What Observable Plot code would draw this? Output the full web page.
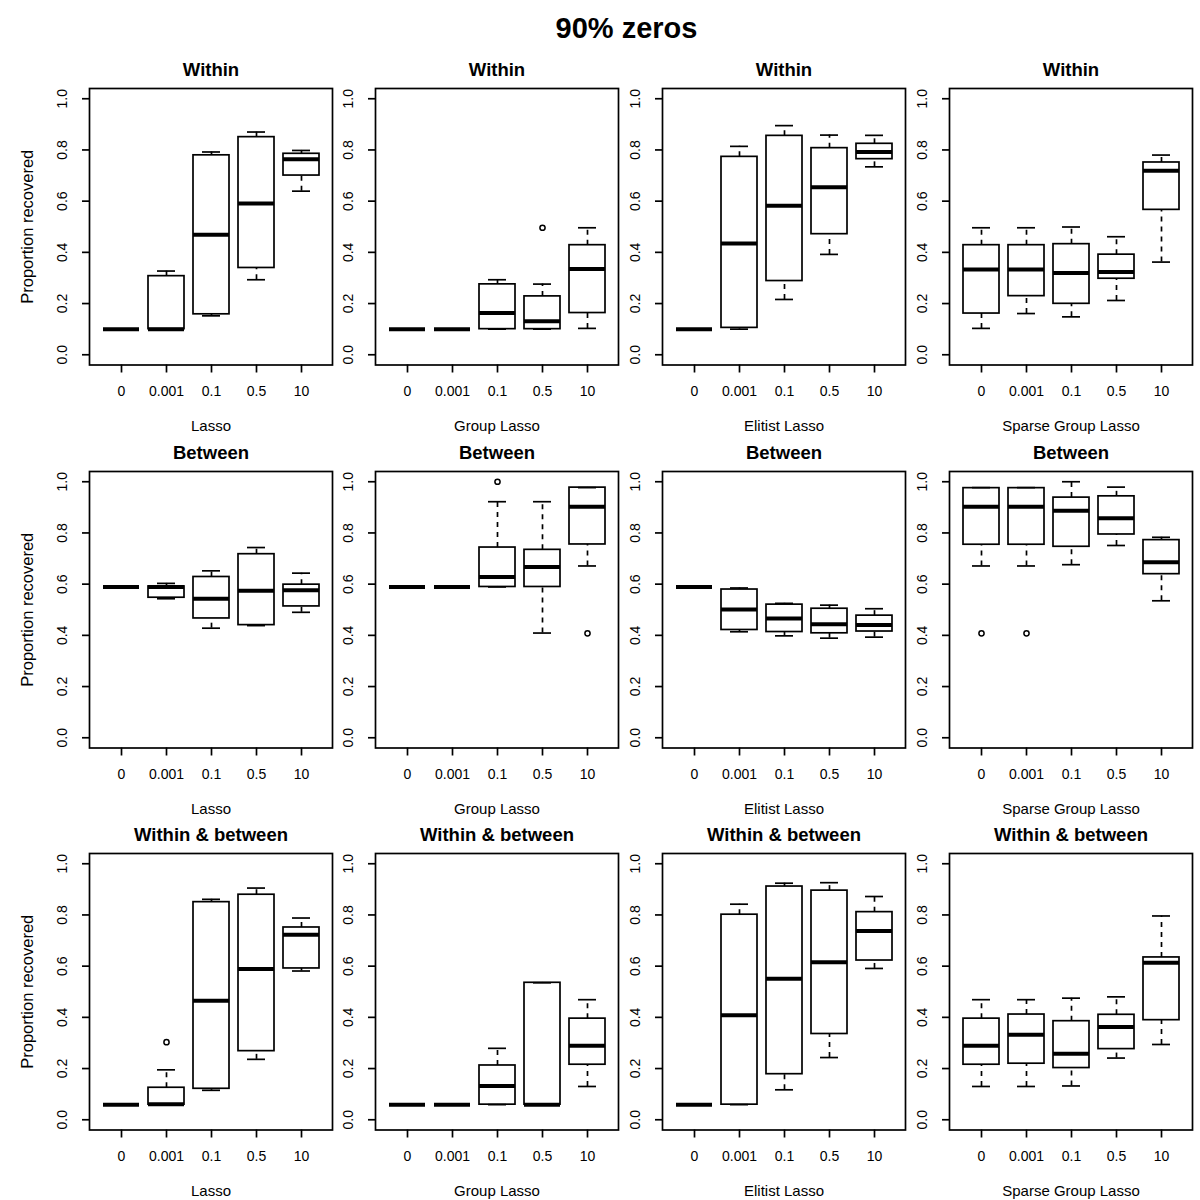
<!DOCTYPE html>
<html>
<head>
<meta charset="utf-8">
<script src="https://cdn.jsdelivr.net/npm/d3@7"></script>
<script src="https://cdn.jsdelivr.net/npm/@observablehq/plot@0.6"></script>
<style>
  body { margin: 0; background: #fff; }
  #wrap { position: relative; width: 1200px; height: 1200px; overflow: hidden; background: #fff;
          font-family: "Liberation Sans", Arial, Helvetica, sans-serif; color: #000; }
  #title { position: absolute; top: 14px; left: 626.5px; transform: translateX(-50%);
           font-size: 29px; line-height: 29px; font-weight: bold; white-space: nowrap; }
  .panel { position: absolute; }
</style>
</head>
<body>
<div id="wrap"><div id="title">90% zeros</div></div>
<script>
// ---------- data ----------
const settings = ["Within", "Between", "Within & between"];
const methods = ["Lasso", "Group Lasso", "Elitist Lasso", "Sparse Group Lasso"];
const penalties = ["0", "0.001", "0.1", "0.5", "10"];
const yTicks = [0, 0.2, 0.4, 0.6, 0.8, 1.0];

// five-number summaries per penalty: [lower whisker, q1, median, q3, upper whisker]
const withinLasso = [[0.100,0.100,0.100,0.100,0.100],[0.100,0.100,0.100,0.307,0.327],[0.152,0.158,0.469,0.779,0.792],[0.293,0.339,0.591,0.850,0.870],[0.639,0.700,0.764,0.785,0.798]];
const withinGroup = [[0.100,0.100,0.100,0.100,0.100],[0.100,0.100,0.100,0.100,0.100],[0.100,0.100,0.163,0.275,0.293],[0.100,0.100,0.131,0.228,0.276],[0.103,0.163,0.335,0.428,0.496]];
const withinElitist = [[0.100,0.100,0.100,0.100,0.100],[0.100,0.105,0.435,0.773,0.814],[0.216,0.288,0.582,0.855,0.895],[0.392,0.471,0.654,0.807,0.858],[0.734,0.764,0.792,0.824,0.857]];
const withinSparse = [[0.103,0.161,0.333,0.428,0.496],[0.161,0.229,0.333,0.428,0.496],[0.148,0.199,0.319,0.432,0.499],[0.212,0.297,0.323,0.391,0.461],[0.362,0.566,0.719,0.751,0.780]];

const betweenLasso = [[0.589,0.589,0.589,0.589,0.589],[0.543,0.547,0.589,0.591,0.603],[0.428,0.466,0.543,0.628,0.652],[0.438,0.440,0.574,0.717,0.743],[0.490,0.513,0.576,0.598,0.643]];
const betweenGroup = [[0.589,0.589,0.589,0.589,0.589],[0.589,0.589,0.589,0.589,0.589],[0.589,0.589,0.628,0.743,0.922],[0.409,0.589,0.667,0.734,0.922],[0.671,0.755,0.902,0.977,0.977]];
const betweenElitist = [[0.589,0.589,0.589,0.589,0.589],[0.414,0.421,0.501,0.579,0.585],[0.398,0.413,0.466,0.520,0.525],[0.389,0.408,0.443,0.504,0.518],[0.393,0.415,0.440,0.477,0.504]];
const betweenSparse = [[0.671,0.754,0.902,0.975,0.977],[0.671,0.754,0.902,0.975,0.977],[0.676,0.746,0.887,0.938,1.000],[0.751,0.794,0.857,0.943,0.979],[0.535,0.639,0.686,0.772,0.783]];

const bothLasso = [[0.059,0.059,0.059,0.059,0.059],[0.059,0.059,0.061,0.125,0.195],[0.115,0.121,0.465,0.850,0.861],[0.236,0.268,0.589,0.879,0.905],[0.581,0.591,0.723,0.751,0.788]];
const bothGroup = [[0.059,0.059,0.059,0.059,0.059],[0.059,0.059,0.059,0.059,0.059],[0.059,0.059,0.132,0.212,0.279],[0.059,0.059,0.059,0.535,0.535],[0.130,0.215,0.289,0.395,0.469]];
const bothElitist = [[0.059,0.059,0.059,0.059,0.059],[0.059,0.059,0.408,0.801,0.842],[0.117,0.178,0.551,0.911,0.924],[0.243,0.335,0.615,0.895,0.926],[0.591,0.622,0.737,0.811,0.872]];
const bothSparse = [[0.130,0.215,0.289,0.395,0.469],[0.130,0.219,0.332,0.411,0.469],[0.132,0.202,0.258,0.385,0.475],[0.241,0.276,0.362,0.410,0.480],[0.294,0.389,0.613,0.634,0.796]];

// outliers: [setting index, method index, penalty, value]
const outliers = [
  [0, 1, "0.5", 0.496],
  [1, 1, "0.1", 1.000],
  [1, 1, "10", 0.408],
  [1, 3, "0", 0.408],
  [1, 3, "0.001", 0.408],
  [2, 0, "0.001", 0.303]
];

const statsGrid = [
  [withinLasso, withinGroup, withinElitist, withinSparse],
  [betweenLasso, betweenGroup, betweenElitist, betweenSparse],
  [bothLasso, bothGroup, bothElitist, bothSparse]
];

// ---------- layout ----------
const frameW = 243, frameH = 276.5;
const mL = 88, mT = 88, mR = 10, mB = 72;
const colLeft = c => 88.5 + 286.8 * c;
const rowTop = r => 88 + 382.5 * r;
const lw = 1.7;

const wrap = document.getElementById("wrap");

settings.forEach((setting, r) => {
  methods.forEach((method, c) => {
    const rows = statsGrid[r][c].map((s, i) => ({p: penalties[i], lo: s[0], q1: s[1], med: s[2], q3: s[3], hi: s[4]}));
    const outs = outliers.filter(o => o[0] === r && o[1] === c).map(o => ({p: o[2], v: o[3]}));
    const txt = {fill: "black", textAnchor: "middle", lineAnchor: "middle"};

    const marks = [
      Plot.axisX({tickSize: 8, tickFormat: () => "", label: null, strokeWidth: lw}),
      Plot.axisY({ticks: yTicks, tickSize: 7, tickFormat: () => "", label: null, strokeWidth: lw}),
      Plot.text(penalties, {...txt, x: d => d, frameAnchor: "bottom", dy: 26.5, text: d => d, fontSize: 14}),
      Plot.text(yTicks, {...txt, y: d => d, frameAnchor: "left", dx: -26.5, rotate: -90, text: d => d.toFixed(1), fontSize: 14}),
      // whiskers
      Plot.ruleX(rows, {x: "p", y1: "q3", y2: "hi", stroke: "black", strokeWidth: lw, strokeDasharray: "5,5"}),
      Plot.ruleX(rows, {x: "p", y1: "lo", y2: "q1", stroke: "black", strokeWidth: lw, strokeDasharray: "5,5"}),
      // staples
      Plot.tickY(rows, {x: "p", y: "hi", insetLeft: 9, insetRight: 9, stroke: "black", strokeWidth: lw}),
      Plot.tickY(rows, {x: "p", y: "lo", insetLeft: 9, insetRight: 9, stroke: "black", strokeWidth: lw}),
      // boxes
      Plot.barY(rows, {x: "p", y1: "q1", y2: "q3", fill: "none", stroke: "black", strokeWidth: lw}),
      // medians
      Plot.tickY(rows, {x: "p", y: "med", stroke: "black", strokeWidth: 4}),
      // outliers
      Plot.dot(outs, {x: "p", y: "v", r: 2.6, stroke: "black", strokeWidth: 1.5, fill: "none"}),
      Plot.frame({stroke: "black", strokeWidth: lw}),
      // panel title
      Plot.text([setting], {...txt, frameAnchor: "top", dy: -18, text: d => d, fontSize: 18.5, fontWeight: "bold"}),
      // x label
      Plot.text([method], {...txt, frameAnchor: "bottom", dy: 61.5, text: d => d, fontSize: 15})
    ];
    if (c === 0) {
      marks.push(Plot.text(["Proportion recovered"], {...txt, frameAnchor: "left", dx: -61.5, rotate: -90, text: d => d, fontSize: 16.5}));
    }

    const chart = Plot.plot({
      width: mL + frameW + mR,
      height: mT + frameH + mB,
      marginLeft: mL, marginRight: mR, marginTop: mT, marginBottom: mB,
      style: {background: "none", fontFamily: "'Liberation Sans', Arial, Helvetica, sans-serif", fontSize: "14px", color: "black", overflow: "visible"},
      x: {type: "band", domain: penalties, paddingInner: 0.2, paddingOuter: 0.3, axis: null},
      y: {domain: [-0.04, 1.04], axis: null},
      marks
    });
    chart.classList.add("panel");
    chart.style.left = (colLeft(c) - mL) + "px";
    chart.style.top = (rowTop(r) - mT) + "px";
    chart.style.maxWidth = "none";
    wrap.appendChild(chart);
  });
});
</script>
</body>
</html>
